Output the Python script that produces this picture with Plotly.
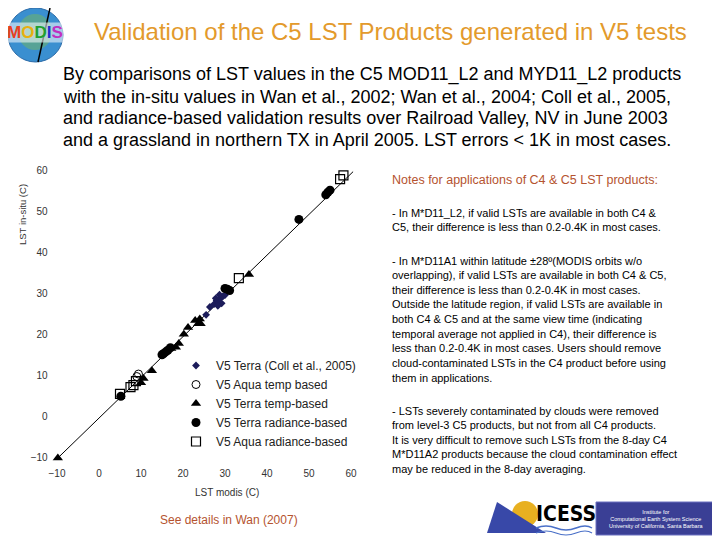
import plotly.graph_objects as go

# The page body adds an 8px margin, so the figure is 712x532 and sits at (8,8).
OFF = 8
W, H = 720 - OFF, 540 - OFF
FONT = "Liberation Sans, Arial, sans-serif"

# ---- data ----
terra_coll_x = [25.5, 26.4, 27.4, 28.0, 28.6, 29.0, 29.5, 28.7, 30.0, 27.8, 29.2, 28.3]
terra_coll_y = [24.8, 26.7, 27.4, 28.3, 27.8, 28.9, 29.3, 29.7, 29.6, 28.8, 27.6, 27.0]

aqua_temp_x = [9.4, 9.0]
aqua_temp_y = [10.4, 9.8]

terra_temp_x = [-9.8, 10.0, 10.6, 12.6, 17.2, 18.3, 19.0, 20.2, 21.2, 22.9, 23.6, 24.0, 24.2, 35.7]
terra_temp_y = [-10.0, 8.3, 9.3, 11.2, 16.6, 16.9, 17.8, 20.1, 21.7, 23.4, 22.6, 23.8, 22.6, 34.6]

terra_rad_x = [5.2, 15.0, 15.4, 15.9, 16.4, 17.0, 30.0, 30.6, 31.1, 47.6, 54.0, 54.5, 55.0]
terra_rad_y = [5.0, 15.1, 15.4, 15.8, 16.2, 16.8, 31.2, 31.0, 30.7, 48.0, 54.0, 54.6, 55.1]

aqua_rad_x = [5.0, 7.5, 8.2, 8.8, 33.3, 57.4, 58.2]
aqua_rad_y = [5.6, 7.2, 7.7, 8.7, 33.7, 57.8, 58.7]

fit_x = [-10.0, 60.5]
fit_y = [-10.2, 59.6]

tick_vals = [-10, 0, 10, 20, 30, 40, 50, 60]

def X(px):
    return (px - OFF) / W

def Y(py):
    return 1 - (py - OFF) / H

fig = go.Figure()

fig.add_trace(go.Scatter(x=fit_x, y=fit_y, mode="lines",
                         line=dict(color="black", width=1), showlegend=False,
                         hoverinfo="skip"))
fig.add_trace(go.Scatter(x=terra_coll_x, y=terra_coll_y, mode="markers",
                         name="V5 Terra (Coll et al., 2005)",
                         marker=dict(symbol="diamond", size=6, color="#1c1c5a")))
fig.add_trace(go.Scatter(x=aqua_temp_x, y=aqua_temp_y, mode="markers",
                         name="V5 Aqua temp based",
                         marker=dict(symbol="circle-open", size=8, color="black",
                                     line=dict(width=1))))
fig.add_trace(go.Scatter(x=terra_temp_x, y=terra_temp_y, mode="markers",
                         name="V5 Terra temp-based",
                         marker=dict(symbol="triangle-up", size=9, color="black")))
fig.add_trace(go.Scatter(x=terra_rad_x, y=terra_rad_y, mode="markers",
                         name="V5 Terra radiance-based",
                         marker=dict(symbol="circle", size=9, color="black")))
fig.add_trace(go.Scatter(x=aqua_rad_x, y=aqua_rad_y, mode="markers",
                         name="V5 Aqua radiance-based",
                         marker=dict(symbol="square-open", size=9, color="black",
                                     line=dict(width=1.2))))

ann = []

def text(px, py, s, size, color="black", xanchor="left", yanchor="middle",
         align="left", angle=0, family=FONT, bgcolor=None):
    d = dict(x=X(px), y=Y(py), xref="paper", yref="paper", text=s,
             showarrow=False, xanchor=xanchor, yanchor=yanchor,
             align=align, textangle=angle,
             font=dict(family=family, size=size, color=color))
    if bgcolor:
        d["bgcolor"] = bgcolor
        d["borderpad"] = 0
    ann.append(d)

# Title
text(92, 31, "Validation of the C5 LST Products generated in V5 tests", 24,
     color="#E39A2C")

# Intro paragraph
para = ["By comparisons of LST values in the C5 MOD11_L2 and MYD11_L2 products",
        "with the in-situ values in Wan et al., 2002; Wan et al., 2004; Coll et al., 2005,",
        "and radiance-based validation results over Railroad Valley, NV in June 2003",
        "and a grassland in northern TX in April 2005. LST errors < 1K in most cases."]
for i, line in enumerate(para):
    text(61, 75 + i * 21.6, line, 18)

# Axis titles
text(22, 215, "LST in-situ (C)", 9.5, color="#333333", xanchor="center", angle=-90)
text(227, 492, "LST modis (C)", 10, color="#333333", xanchor="center")

# Notes
text(390, 180, "Notes for applications of C4 & C5 LST products:", 12.5, color="#B5532F")
notes1 = ["- In M*D11_L2, if valid LSTs are available in both C4 &",
          "C5, their difference is less than 0.2-0.4K in most cases."]
notes2 = ["- In M*D11A1 within latitude ±28º(MODIS orbits w/o",
          "overlapping), if valid LSTs are available in both C4 & C5,",
          "their difference is less than 0.2-0.4K in most cases.",
          "Outside the latitude region, if valid LSTs are available in",
          "both C4 & C5 and at the same view time (indicating",
          "temporal average not applied in C4), their difference is",
          "less than 0.2-0.4K in most cases. Users should remove",
          "cloud-contaminated LSTs in the C4 product before using",
          "them in applications."]
notes3 = ["- LSTs severely contaminated by clouds were removed",
          "from level-3 C5 products, but not from all C4 products.",
          "It is very difficult to remove such LSTs from the 8-day C4",
          "M*D11A2 products because the cloud contamination effect",
          "may be reduced in the 8-day averaging."]
for i, line in enumerate(notes1):
    text(390, 212.5 + i * 14.6, line, 11)
for i, line in enumerate(notes2):
    text(390, 260.5 + i * 14.65, line, 11)
for i, line in enumerate(notes3):
    text(390, 410.5 + i * 14.65, line, 11)

text(158, 520, "See details in Wan (2007)", 12, color="#B5532F")

# MODIS logo
modis = ("<b><span style='color:#e84020'>M</span><span style='color:#e8b010'>O</span>"
         "<span style='color:#20a030'>D</span><span style='color:#2030d0'>I</span>"
         "<span style='color:#c030c0'>S</span></b>")
text(35, 33, modis, 17, xanchor="center", bgcolor="rgba(255,255,255,0.55)")

# ICESS logo text
text(534, 514, "<b>ICESS</b>", 21, color="black",
     family="Liberation Sans Narrow, DejaVu Sans Condensed, sans-serif")
text(656, 519, "Institute for<br>Computational Earth System Science<br>University of California, Santa Barbara",
     5.5, color="white", xanchor="center", align="center")

shapes = [
    # MODIS globe
    dict(type="circle", xref="paper", yref="paper", x0=X(8), x1=X(63), y0=Y(62), y1=Y(8),
         fillcolor="#3a8fd0", line=dict(color="#2a6aa8", width=1), layer="below"),
    dict(type="circle", xref="paper", yref="paper", x0=X(18), x1=X(52), y0=Y(50), y1=Y(14),
         fillcolor="#6ab070", line=dict(width=0), opacity=0.6, layer="below"),
    dict(type="line", xref="paper", yref="paper", x0=X(50), x1=X(38), y0=Y(8), y1=Y(62),
         line=dict(color="black", width=1.5), layer="below"),
    # ICESS logo: sun + triangle + waves + blue box
    dict(type="circle", xref="paper", yref="paper", x0=X(512), x1=X(538), y0=Y(527), y1=Y(501),
         fillcolor="#e8b020", line=dict(width=0)),
    dict(type="path", xref="paper", yref="paper",
         path=f"M {X(487)} {Y(533)} L {X(497)} {Y(502)} L {X(546)} {Y(533)} Z",
         fillcolor="#3848a8", line=dict(width=0)),
    dict(type="path", xref="paper", yref="paper",
         path=(f"M {X(536)} {Y(528)} Q {X(546)} {Y(524)} {X(556)} {Y(528)} "
               f"T {X(576)} {Y(528)} T {X(592)} {Y(528)}"),
         line=dict(color="#4a70c8", width=1.5)),
    dict(type="path", xref="paper", yref="paper",
         path=(f"M {X(536)} {Y(533)} Q {X(546)} {Y(529)} {X(556)} {Y(533)} "
               f"T {X(576)} {Y(533)} T {X(592)} {Y(533)}"),
         line=dict(color="#4a70c8", width=1.2)),
    dict(type="rect", xref="paper", yref="paper", x0=X(596), x1=X(716), y0=Y(535), y1=Y(502),
         fillcolor="#3a3f95", line=dict(color="#6a70c0", width=1)),
]

fig.update_layout(
    width=W, height=H,
    margin=dict(l=0, r=0, t=0, b=0),
    paper_bgcolor="white", plot_bgcolor="white",
    font=dict(family=FONT, color="#222222"),
    annotations=ann, shapes=shapes,
    xaxis=dict(domain=[X(48.6), X(359.4)], range=[-12, 62], tickvals=tick_vals,
               showgrid=False, zeroline=False, showline=False, ticks="",
               tickfont=dict(size=10, color="#333333")),
    yaxis=dict(domain=[Y(466.2), Y(161.8)], range=[-12, 62], tickvals=tick_vals,
               showgrid=False, zeroline=False, showline=False, ticks="",
               tickfont=dict(size=10, color="#333333")),
    legend=dict(x=X(176), y=Y(351), xanchor="left", yanchor="top",
                bgcolor="rgba(0,0,0,0)", font=dict(size=12, color="#222222"),
                itemwidth=30, tracegroupgap=0),
    showlegend=True,
)

fig.write_html("out.html")
